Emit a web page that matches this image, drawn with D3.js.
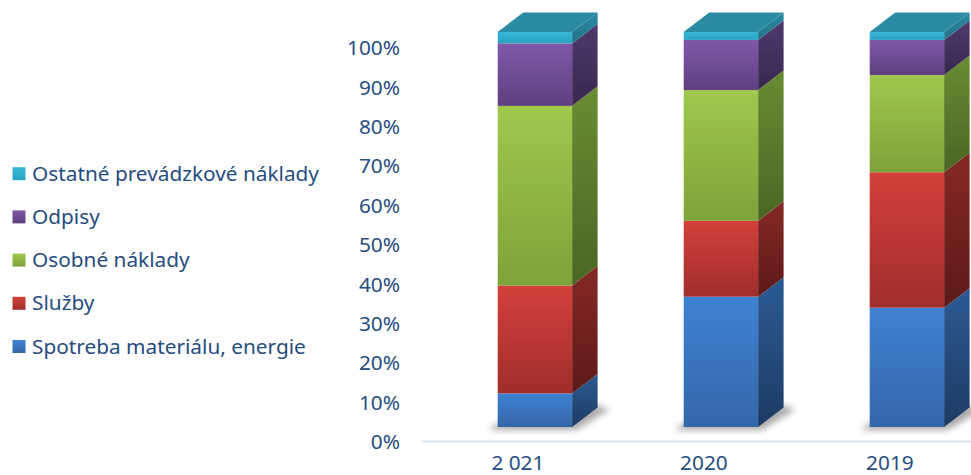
<!DOCTYPE html>
<html>
<head>
<meta charset="utf-8">
<script src="https://cdn.jsdelivr.net/npm/d3@7"></script>
<style>
  html, body { margin: 0; padding: 0; background: #fff; }
  svg { display: block; }
  text { font-family: "Noto Sans", "Open Sans", sans-serif; fill: #264d80; }
</style>
</head>
<body>
<svg id="chart" width="971" height="475"></svg>
<script>
// ---- data ----
const years = ["2 021", "2020", "2019"];
const seriesNames = ["Spotreba materiálu, energie", "Služby", "Osobné náklady", "Odpisy", "Ostatné prevádzkové náklady"];
const spotreba = [8.5, 33.0, 30.2];
const sluzby   = [27.3, 19.2, 34.3];
const osobne   = [45.5, 33.1, 24.6];
const odpisy   = [15.8, 12.7, 8.9];
const ostatne  = [2.9, 2.0, 2.0];
const yTicks = [0, 10, 20, 30, 40, 50, 60, 70, 80, 90, 100];

// ---- styles ----
const frontCols = [["#3f82d2", "#3467a8"], ["#d4403b", "#9f2e2b"], ["#a0c84c", "#7fa23a"], ["#8058a8", "#5e4080"], ["#38b8d8", "#2ba2c2"]];
const sideCols  = [["#2b5b95", "#1d3b63"], ["#862926", "#5c1a19"], ["#6a8c33", "#4a6624"], ["#51396f", "#38274e"], ["#2a8aa0", "#237289"]];
const topCol = "#2a8ba3";
const DX = 25.5, DY = -19.5;
const FS = 20.8;

const table = years.map((y, i) => ({
  year: y,
  vals: [spotreba[i], sluzby[i], osobne[i], odpisy[i], ostatne[i]]
}));

const svg = d3.select("#chart");
const defs = svg.append("defs");
frontCols.forEach((c, i) => {
  const g = defs.append("linearGradient").attr("id", "f" + i).attr("x1", 0).attr("y1", 0).attr("x2", 0).attr("y2", 1);
  g.append("stop").attr("offset", "0%").attr("stop-color", c[0]);
  g.append("stop").attr("offset", "100%").attr("stop-color", c[1]);
});
sideCols.forEach((c, i) => {
  const g = defs.append("linearGradient").attr("id", "s" + i).attr("x1", 0).attr("y1", 0).attr("x2", 0).attr("y2", 1);
  g.append("stop").attr("offset", "0%").attr("stop-color", c[0]);
  g.append("stop").attr("offset", "100%").attr("stop-color", c[1]);
});
defs.append("filter").attr("id", "blur").attr("x", "-50%").attr("y", "-50%").attr("width", "200%").attr("height", "200%")
  .append("feGaussianBlur").attr("stdDeviation", 3);

// ---- scales ----
const x = d3.scaleBand().domain(years).range([441.9, 999.9]).paddingInner(0.6).paddingOuter(0.3).align(0.5);
const y = d3.scaleLinear().domain([0, 100]).range([427, 32]);
const yAx = d3.scaleLinear().domain([0, 100]).range([441.5, 47.5]);

// ---- floor line ----
svg.append("line").attr("x1", 422).attr("x2", 971).attr("y1", 441.5).attr("y2", 441.5)
  .attr("stroke", "#d7e1f0").attr("stroke-width", 2);

// ---- y axis ----
const axisG = svg.append("g").attr("transform", "translate(400,0)")
  .call(d3.axisLeft(yAx).tickValues(yTicks).tickFormat(d => d + "%").tickSize(0).tickPadding(0));
axisG.select(".domain").remove();
axisG.selectAll("text").attr("font-size", FS).attr("font-family", null).attr("fill", "#264d80").attr("dy", "0.35em");

// ---- bars ----
const bw = x.bandwidth();
table.forEach(row => {
  const xl = x(row.year), xr = xl + bw;
  const g = svg.append("g");
  // shadow
  const yb = y(0);
  g.append("polygon")
    .attr("points", [[xl - 9, yb + 3], [xr + 4, yb + 3], [xr + DX + 12, yb + DY + 2], [xr + DX, yb + DY - 2], [xl, yb - 4]].map(p => p.join(",")).join(" "))
    .attr("fill", "#000").attr("opacity", 0.33).attr("filter", "url(#blur)");
  let cum = 0;
  row.vals.forEach((v, i) => {
    const y0 = y(cum), y1 = y(cum + v);
    cum += v;
    // side face
    g.append("polygon")
      .attr("points", [[xr, y1], [xr + DX, y1 + DY], [xr + DX, y0 + DY], [xr, y0]].map(p => p.join(",")).join(" "))
      .attr("fill", `url(#s${i})`);
    // front face
    g.append("rect").attr("x", xl).attr("y", y1).attr("width", bw).attr("height", y0 - y1)
      .attr("fill", `url(#f${i})`);
  });
  // top face
  const yt = y(cum);
  g.append("polygon")
    .attr("points", [[xl, yt], [xl + DX, yt + DY], [xr + DX, yt + DY], [xr, yt]].map(p => p.join(",")).join(" "))
    .attr("fill", topCol);
  // year label
  svg.append("text").attr("x", xl + bw / 2 - 17).attr("y", 463).attr("dy", "0.35em")
    .attr("text-anchor", "middle").attr("font-size", FS).text(row.year);
});

// ---- legend ----
const legendOrder = [4, 3, 2, 1, 0];
const legend = svg.append("g");
legendOrder.forEach((si, k) => {
  const by = 180.7 + k * 43.2;
  legend.append("rect").attr("x", 12.5).attr("y", by - 13.5).attr("width", 13).attr("height", 13)
    .attr("fill", `url(#f${si})`);
  legend.append("text").attr("x", 32).attr("y", by).attr("font-size", FS).text(seriesNames[si]);
});
</script>
</body>
</html>
